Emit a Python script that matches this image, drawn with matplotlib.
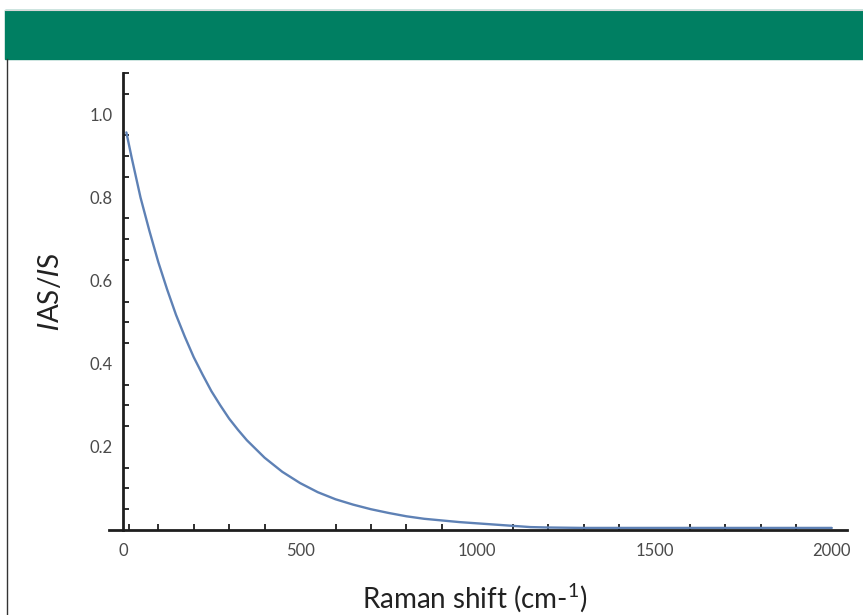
import matplotlib
matplotlib.use("Agg")
import matplotlib.pyplot as plt
from matplotlib.patches import Rectangle
from matplotlib.lines import Line2D
from matplotlib.ticker import FixedLocator, FixedFormatter

plt.rcParams['font.family'] = ['Lato', 'DejaVu Sans']
plt.rcParams['mathtext.fontset'] = 'custom'
plt.rcParams['mathtext.rm'] = 'Lato'
plt.rcParams['mathtext.it'] = 'DejaVu Sans:italic'

# anti-Stokes / Stokes intensity ratio vs Raman shift
shift = [10, 25, 50, 75, 100, 125, 150, 175, 200, 225, 250, 275, 300, 325, 350,
         400, 450, 500, 550, 600, 650, 700, 750, 800, 850, 900, 950, 1000, 1050,
         1100, 1150, 1200, 1300, 1400, 1500, 1600, 1700, 1800, 1900, 2000]
ratio = [0.957, 0.896, 0.800, 0.720, 0.645, 0.579, 0.518, 0.465, 0.416, 0.374,
         0.334, 0.300, 0.268, 0.241, 0.216, 0.174, 0.140, 0.113, 0.091, 0.074,
         0.061, 0.050, 0.041, 0.033, 0.027, 0.023, 0.019, 0.016, 0.013, 0.010,
         0.007, 0.006, 0.005, 0.005, 0.005, 0.005, 0.005, 0.005, 0.005, 0.005]

x_minor = [18] + list(range(100, 2001, 100))
x_labels = [0, 500, 1000, 1500, 2000]
y_minor = [round(0.05 * k, 2) for k in range(1, 23)]
y_labels = [0.2, 0.4, 0.6, 0.8, 1.0]

fig = plt.figure(figsize=(8.63, 6.15), dpi=100)

# header band and left border
fig.patches.append(Rectangle((5 / 863, 1 - 59 / 615), 1, 49 / 615,
                             transform=fig.transFigure, color='#007f62', zorder=0))
fig.lines.append(Line2D([5 / 863, 1], [1 - 10 / 615] * 2, transform=fig.transFigure,
                        color='#d8d8d8', lw=0.8))
fig.lines.append(Line2D([7 / 863] * 2, [0, 1 - 59 / 615], transform=fig.transFigure,
                        color='#333333', lw=1.0))

ax = fig.add_axes([109 / 863, 1 - 530 / 615, 738 / 863, 457 / 615])
ax.plot(shift, ratio, color='#5e81b5', lw=1.7, solid_capstyle='round',
        solid_joinstyle='round')

ax.set_xlim(-39, 2043)
ax.set_ylim(0, 1.1)

for s in ['top', 'right']:
    ax.spines[s].set_visible(False)
ax.spines['left'].set_position(('data', 0))
for s in ['left', 'bottom']:
    ax.spines[s].set_linewidth(2.0)
    ax.spines[s].set_color('#1e1e1e')

ax.xaxis.set_major_locator(FixedLocator(x_labels))
ax.xaxis.set_major_formatter(FixedFormatter([str(v) for v in x_labels]))
ax.xaxis.set_minor_locator(FixedLocator(x_minor))
ax.yaxis.set_major_locator(FixedLocator(y_labels))
ax.yaxis.set_major_formatter(FixedFormatter([f'{v:.1f}' for v in y_labels]))
ax.yaxis.set_minor_locator(FixedLocator(y_minor))

ax.tick_params(which='major', length=0, labelsize=12, labelcolor='#4a4a4a')
ax.tick_params(axis='x', which='major', pad=9)
ax.tick_params(axis='y', which='major', pad=7)
ax.tick_params(which='minor', direction='in', length=4.5, width=1.3, color='#1e1e1e')

fig.text(475 / 863, 1 - 598 / 615, 'Raman shift (cm-$^{1}$)', ha='center', va='center',
         fontsize=20, color='#222222')
fig.text(50 / 863, 1 - 292 / 615, r'$I$AS/$I$S', ha='center', va='center',
         rotation=90, fontsize=20, color='#222222')

fig.savefig('out.png', dpi=100)
